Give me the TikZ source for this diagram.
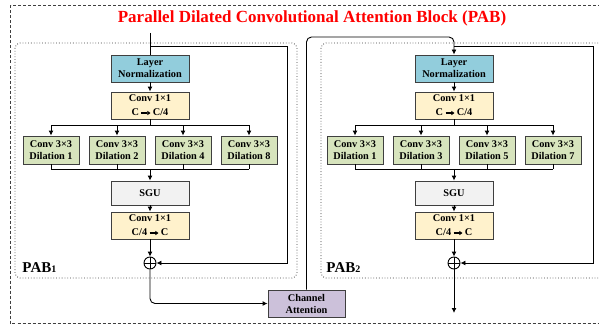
\documentclass[tikz,border=0pt]{standalone}
\usepackage{fontspec}
\setmainfont{Liberation Serif}
\usetikzlibrary{arrows.meta}

\definecolor{normblue}{HTML}{92CDDC}
\definecolor{convyellow}{HTML}{FFF2CC}
\definecolor{dilgreen}{HTML}{D7E4BD}
\definecolor{sgugray}{HTML}{F2F2F2}
\definecolor{attpurple}{HTML}{CCC1DA}
\definecolor{edgegray}{HTML}{3F3F3F}

% short thick arrow for the channel change
\newcommand{\cto}{\tikz[baseline=-0.6ex]\draw[line width=1.2pt,-{Triangle[length=3.2pt,width=4.2pt]}] (0pt,0pt)--(9pt,0pt);}

\tikzset{
  blk/.style={draw=edgegray, line width=0.9pt, minimum width=78pt, minimum height=27pt,
    inner sep=0pt, align=center, font=\fontsize{10.3}{12}\selectfont\bfseries},
  norm/.style={blk, fill=normblue},
  conv/.style={blk, fill=convyellow},
  dil/.style={blk, fill=dilgreen, minimum width=56pt, minimum height=28pt},
  sgu/.style={blk, fill=sgugray, minimum height=24pt},
  chatt/.style={blk, fill=attpurple, minimum width=77pt},
  addop/.style={circle, draw, line width=0.9pt, minimum size=12pt, inner sep=0pt,
    path picture={\draw[line width=0.9pt] (path picture bounding box.north) -- (path picture bounding box.south)
      (path picture bounding box.west) -- (path picture bounding box.east);}},
  tag/.style={anchor=west, inner sep=0pt, font=\fontsize{15}{15}\selectfont\bfseries}
}

\begin{document}
\begin{tikzpicture}[x=1pt, y=-1pt, line width=0.9pt, >={Latex[length=5pt,width=5pt]}]
 \useasboundingbox (0,0) rectangle (599,329);
 \clip (0,0) rectangle (599,329);
 % frames
 \draw[edgegray, line width=0.8pt, dash pattern=on 3pt off 2pt] (10.5,5.5) rectangle (610,323.5);
 \draw[line width=0.8pt, edgegray, dotted, rounded corners=5pt] (15,43) rectangle (297,278);
 \draw[line width=0.8pt, edgegray, dotted, rounded corners=5pt] (321,43) rectangle (610,278);
 \node[text=red, font=\fontsize{17}{17}\selectfont\bfseries] (title) at (312,18) {Parallel Dilated Convolutional Attention Block (PAB)};

 % the two blocks
 \foreach \b/\dx/\dl in {1/0/{1,2,4,8}, 2/304/{1,3,5,7}}{
  \node[norm] (ln\b) at ({150+\dx},68.5) {Layer\\Normalization};
  \node[conv] (ca\b) at ({150+\dx},105.5) {Conv 1×1\\[2pt]C\,\cto\,C/4};
  \foreach \d [count=\i] in \dl
   \node[dil] (d\b\i) at ({51+\dx+66*(\i-1)},150) {Conv 3×3\\Dilation \d};
  \node[sgu] (sgu\b) at ({150+\dx},193) {SGU};
  \node[conv] (cb\b) at ({150+\dx},225.5) {Conv 1×1\\[2pt]C/4\,\cto\,C};
  \node[addop] (add\b) at ({150+\dx},263) {};
  \node[tag] (pab\b) at ({22+\dx},268) {PAB{\fontsize{10}{10}\selectfont\b}};
  \coordinate (top\b) at ({150+\dx},125);
  \coordinate (bot\b) at ({150+\dx},169);
  \coordinate (sp\b) at ({150+\dx},46);
  \coordinate (rs\b) at ({287+\dx+2*(\b-1)},46);
  \draw[->] (ln\b) -- (ca\b);
  \draw (ca\b.south) -- (top\b);
  \draw (d\b1.north |- top\b) -- (d\b4.north |- top\b);
  \draw (d\b1.south |- bot\b) -- (d\b4.south |- bot\b);
  \foreach \i in {1,...,4}{
   \draw[->] (d\b\i.north |- top\b) -- (d\b\i.north);
   \draw (d\b\i.south) -- (d\b\i.south |- bot\b);
  }
  \draw[->] (bot\b) -- (sgu\b);
  \draw[->] (sgu\b) -- (cb\b);
  \draw[->] (cb\b) -- (add\b);
  \draw[->] (sp\b) -- (rs\b) |- (add\b.east);
 }

 \node[chatt] (catt) at (306.5,303.5) {Channel\\Attention};
 \coordinate (in1) at (150,33);
 \coordinate (out2) at (454,313);
 \draw (in1) -- (ln1);
 \draw[->, rounded corners=5pt] (add1.south) |- (catt.west);
 \draw[->, rounded corners=5pt] (catt.north) |- (454,37) -- (ln2.north);
 \draw[->] (add2.south) -- (out2);
\end{tikzpicture}
\end{document}
